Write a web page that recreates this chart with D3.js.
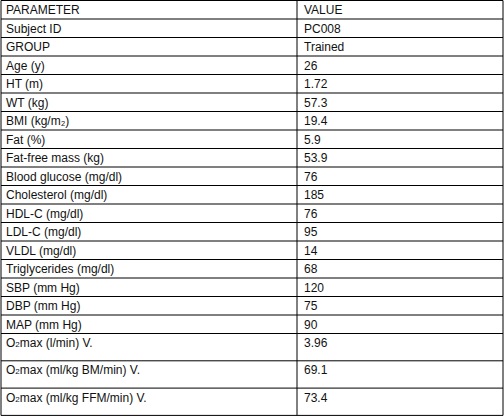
<!DOCTYPE html>
<meta charset="utf-8">
<style>
body{margin:0;background:#fff;}
svg text{font-family:"Liberation Sans",Arial,sans-serif;font-size:12px;fill:#111;}
</style>
<body>
<script src="https://d3js.org/d3.v7.min.js"></script>
<script>
const headers = ["PARAMETER", "VALUE"];
const params = ["Subject ID","GROUP","Age (y)","HT (m)","WT (kg)","BMI (kg/m\u2082)","Fat (%)","Fat-free mass (kg)",
  "Blood glucose (mg/dl)","Cholesterol (mg/dl)","HDL-C (mg/dl)","LDL-C (mg/dl)","VLDL (mg/dl)","Triglycerides (mg/dl)",
  "SBP (mm Hg)","DBP (mm Hg)","MAP (mm Hg)","O|max (l/min) V.","O|max (ml/kg BM/min) V.","O|max (ml/kg FFM/min) V."];
const values = ["PC008","Trained","26","1.72","57.3","19.4","5.9","53.9","76","185","76","95","14","68","120","75","90","3.96","69.1","73.4"];

const width = 504, height = 417;
const svg = d3.select("body").append("svg").attr("width", width).attr("height", height);

const rows = [headers].concat(params.map((p, i) => [p, values[i]]));
const heights = rows.map((r, i) => i >= 18 ? 27.3 : 18.5);
const tops = [];
heights.reduce((acc, h) => { tops.push(acc); return acc + h; }, 0.5);
const bottom = tops[tops.length - 1] + heights[heights.length - 1];

const x = d3.scaleOrdinal().domain([0, 1]).range([6, 304]);

const g = svg.append("g");
g.selectAll("line.h").data(tops.concat([bottom])).join("line")
  .attr("x1", 1).attr("x2", 503).attr("y1", d => d).attr("y2", d => d)
  .attr("stroke", "#000").attr("stroke-width", 1);
[1, 297, 503].forEach(cx => g.append("line").attr("x1", cx).attr("x2", cx)
  .attr("y1", 0.5).attr("y2", bottom).attr("stroke", "#000"));

rows.forEach((r, i) => {
  r.forEach((t, j) => {
    const txt = g.append("text").attr("x", x(j)).attr("y", tops[i] + 13.5);
    if (t.includes("|")) {
      const parts = t.split("|");
      txt.append("tspan").text(parts[0]);
      txt.append("tspan").attr("font-size", 8).text("2");
      txt.append("tspan").text(parts[1]);
    } else txt.text(t);
  });
});
</script>
</body>
